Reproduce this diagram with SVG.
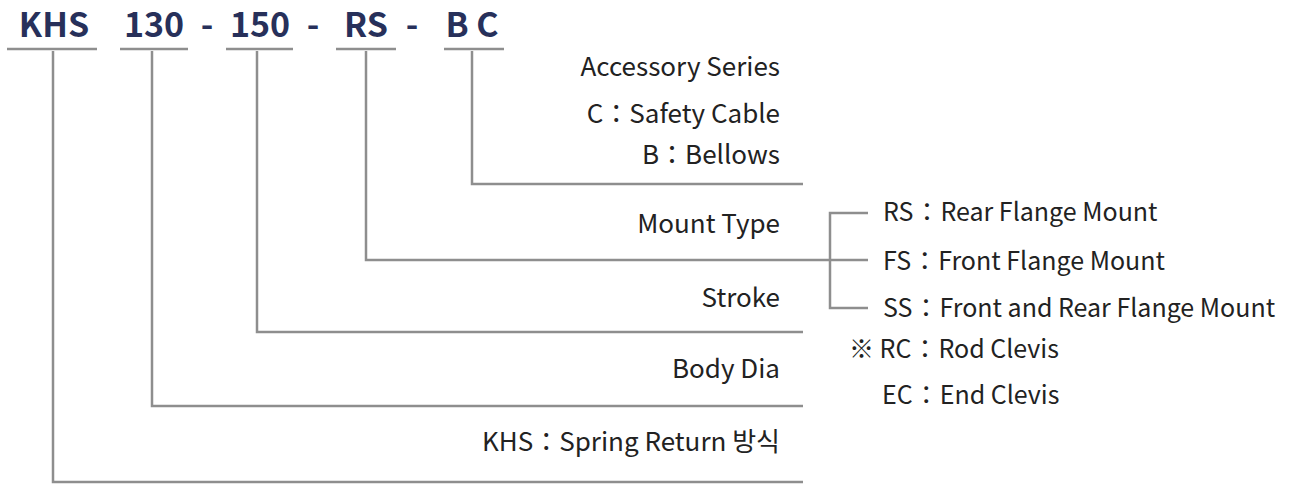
<svg xmlns="http://www.w3.org/2000/svg" width="1295" height="485" viewBox="0 0 1295 485">
<style>
.t{font-family:"Noto Sans CJK KR","Noto Sans",sans-serif;font-size:34px;font-weight:bold;fill:#27305a;text-anchor:middle}
.l{font-family:"Noto Sans CJK KR","Noto Sans",sans-serif;font-size:26px;fill:#222}
.m{font-size:25px}
.r{text-anchor:end}
.c{fill:none;stroke:#8e8e8e;stroke-width:2.5}
</style>
<rect width="1295" height="485" fill="#fff"/>
<g id="code">
<text class="t" x="54" y="37">KHS</text>
<text class="t" x="154" y="37">130</text>
<text class="t" x="207" y="37">-</text>
<text class="t" x="260" y="37">150</text>
<text class="t" x="313" y="37">-</text>
<text class="t" x="366" y="37">RS</text>
<text class="t" x="412" y="37">-</text>
<text class="t" x="472" y="37">B C</text>
</g>
<g id="connectors" class="c">
<path d="M7 49H97M120 49H188M226 49H293M336 49H396M444 49H504"/>
<path d="M472 51V184H803"/>
<path d="M366 51V260H868"/>
<path d="M868 213H830V308H868"/>
<path d="M257 51V332H803"/>
<path d="M152 51V406H803"/>
<path d="M53 51V482H803"/>
</g>
<g id="accessory">
<text class="l r" x="780" y="76">Accessory Series</text>
<text class="l r" x="780" y="123">C：Safety Cable</text>
<text class="l r" x="780" y="164">B：Bellows</text>
</g>
<g id="mount">
<text class="l r" x="780" y="233">Mount Type</text>
<text class="l m" x="883" y="221">RS<tspan dx="1">：</tspan><tspan dx="1">Rear Flange Mount</tspan></text>
<text class="l m" x="883" y="270">FS<tspan dx="1">：</tspan><tspan dx="1">Front Flange Mount</tspan></text>
<text class="l m" x="883" y="317">SS<tspan dx="1">：</tspan><tspan dx="1">Front and Rear Flange Mount</tspan></text>
<text class="l m" x="849" y="358">※ RC<tspan dx="1">：</tspan><tspan dx="1">Rod Clevis</tspan></text>
<text class="l m" x="882" y="404">EC<tspan dx="1">：</tspan><tspan dx="1">End Clevis</tspan></text>
</g>
<g id="stroke"><text class="l r" x="780" y="307">Stroke</text></g>
<g id="body"><text class="l r" x="780" y="378">Body Dia</text></g>
<g id="series"><text class="l r" x="780" y="451">KHS：Spring Return 방식</text></g>
</svg>
